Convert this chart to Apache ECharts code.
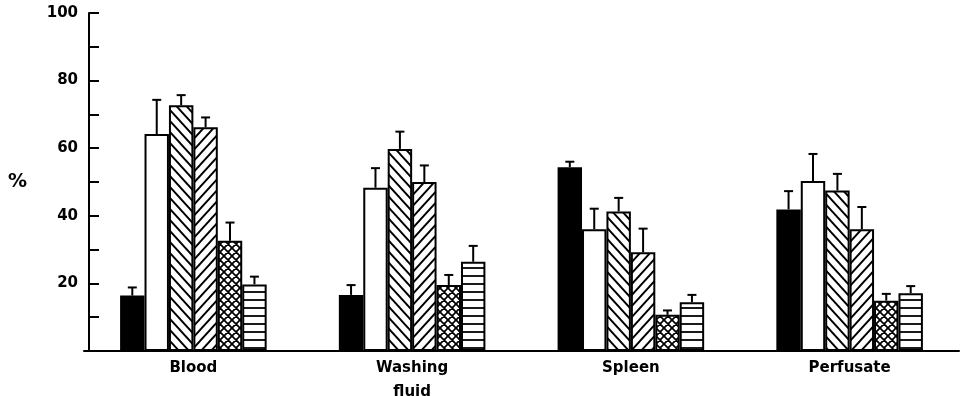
<!DOCTYPE html>
<html>
<head>
<meta charset="utf-8">
<script src="https://cdn.jsdelivr.net/npm/echarts@6/dist/echarts.min.js"></script>
<style>
  html, body { margin: 0; padding: 0; background: #fff; }
  #chart { width: 963px; height: 396px; }
</style>
</head>
<body>
<div id="chart"></div>
<script>
// Sample groups along the x axis
const categories = ['Blood', 'Washing\nfluid', 'Spleen', 'Perfusate'];

// Mean percentages per fraction (one array per bar fill)
const solidValues     = [16.4, 16.6, 54.4, 41.9];
const openValues      = [64.2, 48.3, 36.0, 50.3];
const backslashValues = [72.7, 59.8, 41.3, 47.5];
const slashValues     = [66.2, 50.0, 29.2, 36.0];
const crossValues     = [32.6, 19.5, 10.7, 14.9];
const stripeValues    = [19.7, 26.4, 14.4, 17.1];

// Upper error (SEM) for each bar
const solidErr     = [2.4, 2.9, 1.6, 5.4];
const openErr      = [10.1, 5.8, 6.1, 8.0];
const backslashErr = [3.0, 5.1, 4.0, 4.9];
const slashErr     = [2.9, 4.9, 7.0, 6.6];
const crossErr     = [5.4, 3.0, 1.3, 2.0];
const stripeErr    = [2.3, 4.7, 2.2, 2.1];

// Y axis tick labels
const yTickLabels = [20, 40, 60, 80, 100];

// ---- hatch fills ----
function makePattern(w, h, lineWidth, draw) {
  const c = document.createElement('canvas');
  c.width = w; c.height = h;
  const ctx = c.getContext('2d');
  ctx.fillStyle = '#fff';
  ctx.fillRect(0, 0, w, h);
  ctx.strokeStyle = '#000';
  ctx.lineWidth = lineWidth;
  ctx.lineCap = 'butt';
  draw(ctx, w, h);
  return { image: c, repeat: 'repeat' };
}
const backslashFill = makePattern(10, 11, 1.9, (ctx, w, h) => {
  ctx.beginPath();
  for (const o of [-w, 0, w]) { ctx.moveTo(o - w, -h); ctx.lineTo(o + 2 * w, 2 * h); }
  ctx.stroke();
});
const slashFill = makePattern(10, 11, 1.9, (ctx, w, h) => {
  ctx.beginPath();
  for (const o of [-w, 0, w]) { ctx.moveTo(o + 2 * w, -h); ctx.lineTo(o - w, 2 * h); }
  ctx.stroke();
});
const crossFill = makePattern(8, 8, 1.7, (ctx, w, h) => {
  ctx.beginPath();
  for (const o of [-w, 0, w]) {
    ctx.moveTo(o - w, -h); ctx.lineTo(o + 2 * w, 2 * h);
    ctx.moveTo(o + 2 * w, -h); ctx.lineTo(o - w, 2 * h);
  }
  ctx.stroke();
});
const stripeFill = makePattern(8, 8, 1.8, (ctx, w, h) => {
  ctx.beginPath();
  ctx.moveTo(0, 4); ctx.lineTo(w, 4);
  ctx.stroke();
});

const groups = [
  { values: solidValues,     err: solidErr,     fill: '#000' },
  { values: openValues,      err: openErr,      fill: '#fff' },
  { values: backslashValues, err: backslashErr, fill: backslashFill },
  { values: slashValues,     err: slashErr,     fill: slashFill },
  { values: crossValues,     err: crossErr,     fill: crossFill },
  { values: stripeValues,    err: stripeErr,    fill: stripeFill }
];

const CAT_GAP = 0.33;
const nBars = groups.length;

const barSeries = groups.map(g => ({
  type: 'bar',
  data: g.values,
  barGap: '0%',
  barCategoryGap: (CAT_GAP * 100) + '%',
  itemStyle: { color: g.fill, borderColor: '#000', borderWidth: 2 },
  silent: true,
  z: 2
}));

// error bar data: [category index, bar index, value, error]
const errData = [];
groups.forEach((g, si) => {
  g.values.forEach((v, ci) => errData.push([ci, si, v, g.err[ci]]));
});

const errSeries = {
  type: 'custom',
  data: errData,
  encode: { x: 0, y: 2 },
  z: 5,
  silent: true,
  renderItem(params, api) {
    const ci = api.value(0), si = api.value(1), v = api.value(2), e = api.value(3);
    const base = api.coord([ci, 0]);
    const band = api.size([1, 0])[0];
    const bw = band * (1 - CAT_GAP) / nBars;
    const x = base[0] - (nBars / 2) * bw + (si + 0.5) * bw;
    const yTop = api.coord([ci, v])[1];
    const yCap = api.coord([ci, v + e])[1];
    const style = { stroke: '#000', lineWidth: 2, fill: null };
    return {
      type: 'group',
      children: [
        { type: 'line', shape: { x1: x, y1: yTop, x2: x, y2: yCap }, style },
        { type: 'line', shape: { x1: x - 4.5, y1: yCap, x2: x + 4.5, y2: yCap }, style }
      ]
    };
  }
};

const FONT = '"DejaVu Sans", sans-serif';

const chart = echarts.init(document.getElementById('chart'), null, { renderer: 'canvas' });
chart.setOption({
  animation: false,
  backgroundColor: '#fff',
  grid: {
    left: 84, right: 4, top: 13, bottom: 45,
    containLabel: false, outerBoundsMode: 'none'
  },
  xAxis: {
    type: 'category',
    data: categories,
    axisLine: { lineStyle: { color: '#000', width: 2 } },
    axisTick: { show: false },
    axisLabel: {
      color: '#000', fontFamily: FONT, fontWeight: 'bold', fontSize: 15,
      lineHeight: 24, margin: 5
    }
  },
  yAxis: {
    type: 'value',
    min: 0, max: 100, interval: 10,
    offset: -5,
    name: '%',
    nameLocation: 'middle',
    nameRotate: 0,
    nameGap: 62,
    nameTextStyle: { color: '#000', fontFamily: FONT, fontWeight: 'bold', fontSize: 19 },
    axisLine: { show: true, lineStyle: { color: '#000', width: 2 } },
    axisTick: { show: true, inside: true, length: 10, lineStyle: { color: '#000', width: 2 } },
    splitLine: { show: false },
    axisLabel: {
      color: '#000', fontFamily: FONT, fontWeight: 'bold', fontSize: 15, margin: 11,
      formatter: v => (yTickLabels.indexOf(v) >= 0 ? String(v) : '')
    }
  },
  series: [...barSeries, errSeries]
});
</script>
</body>
</html>
